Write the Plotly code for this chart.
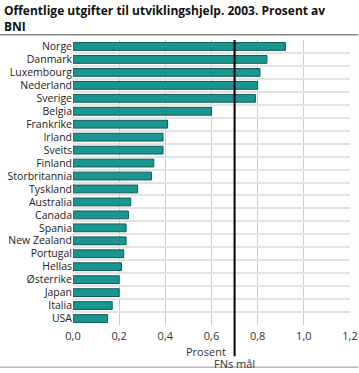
import plotly.graph_objects as go

countries = ["Norge", "Danmark", "Luxembourg", "Nederland", "Sverige", "Belgia",
             "Frankrike", "Irland", "Sveits", "Finland", "Storbritannia", "Tyskland",
             "Australia", "Canada", "Spania", "New Zealand", "Portugal", "Hellas",
             "Østerrike", "Japan", "Italia", "USA"]
values = [0.92, 0.84, 0.81, 0.80, 0.79, 0.60, 0.41, 0.39, 0.39, 0.35, 0.34, 0.28,
          0.25, 0.24, 0.23, 0.23, 0.22, 0.21, 0.20, 0.20, 0.17, 0.15]
x_ticks = [0, 0.2, 0.4, 0.6, 0.8, 1.0, 1.2]
x_ticklabels = ["0,0", "0,2", "0,4", "0,6", "0,8", "1,0", "1,2"]
un_goal = 0.7

font = "Open Sans"

fig = go.Figure(go.Bar(
    x=values, y=countries, orientation="h",
    marker=dict(color="#1a9690", line=dict(color="#0f5a56", width=1)),
    width=0.6,
))

fig.update_layout(
    width=359, height=373,
    margin=dict(l=73, r=9, t=40, b=48, autoexpand=False),
    plot_bgcolor="white", paper_bgcolor="white",
    showlegend=False,
    font=dict(family=font, size=11, color="#222"),
    xaxis=dict(range=[0, 1.2], tickvals=x_ticks, ticktext=x_ticklabels,
               showgrid=True, gridcolor="#cccccc", gridwidth=1, zeroline=False,
               showline=False, ticks="", tickfont=dict(size=11, color="#333"),
               ticklabelstandoff=3, automargin=False, fixedrange=True),
    yaxis=dict(categoryorder="array", categoryarray=countries[::-1],
               tickmode="array", tickvals=countries,
               tickson="boundaries", showgrid=True, gridcolor="#e3e3e3", gridwidth=2,
               ticks="", showline=False, tickfont=dict(size=10.5, color="#222"),
               ticksuffix=" ", automargin=False, fixedrange=True),
    shapes=[
        dict(type="line", xref="x", yref="paper", x0=un_goal, x1=un_goal,
             y0=-0.11, y1=1, line=dict(color="black", width=2)),
        dict(type="line", xref="paper", yref="paper", x0=-0.27, x1=1.03,
             y0=1.018, y1=1.018, line=dict(color="#8c8c8c", width=1.5)),
        dict(type="line", xref="paper", yref="paper", x0=-0.27, x1=1.03,
             y0=-0.148, y1=-0.148, line=dict(color="#bbbbbb", width=1.5)),
    ],
    annotations=[
        dict(text="<b>Offentlige utgifter til utviklingshjelp. 2003. Prosent av<br>BNI</b>",
             xref="paper", yref="paper", x=-0.258, y=1.14, xanchor="left", yanchor="top",
             align="left", showarrow=False,
             font=dict(family=font, size=12, color="#111")),
        dict(text="Prosent", xref="x", yref="paper", x=0.67, y=-0.06,
             xanchor="right", yanchor="top", showarrow=False,
             font=dict(size=11, color="#333")),
        dict(text="FNs mål", xref="x", yref="paper", x=un_goal, y=-0.103,
             xanchor="center", yanchor="top", showarrow=False,
             font=dict(size=11, color="#333")),
    ],
)

fig.write_html("out.html", config={"displayModeBar": False},
               post_script="document.body.style.margin='0';")
